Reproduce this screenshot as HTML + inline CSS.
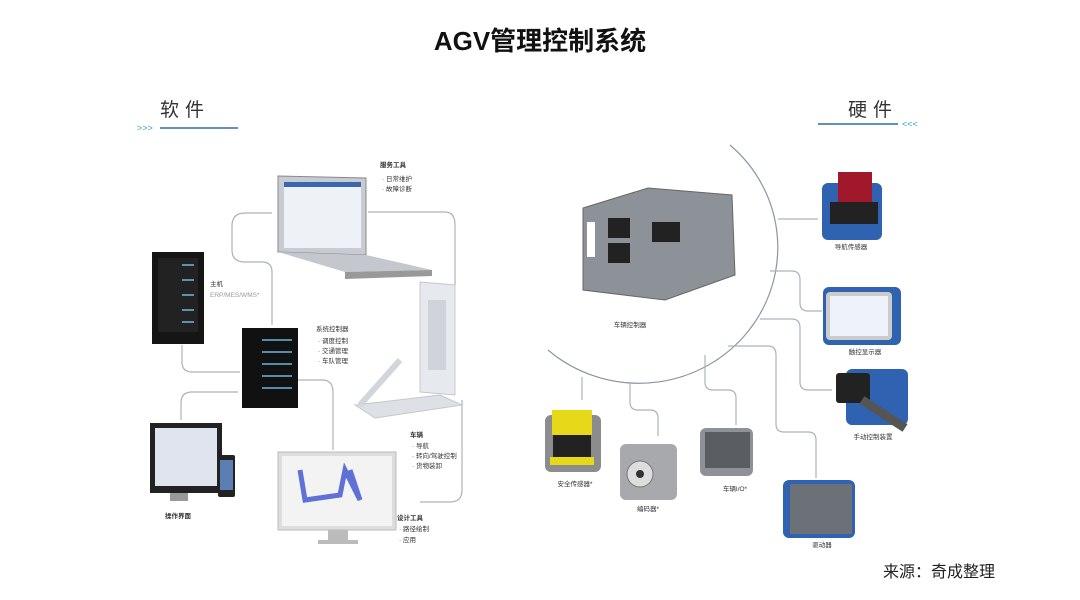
<!DOCTYPE html>
<html><head><meta charset="utf-8"><style>
body{margin:0;background:#fff;}
svg{display:block;font-family:"Liberation Sans","Noto Sans CJK SC",sans-serif;}
</style></head><body>
<svg width="1080" height="600" viewBox="0 0 1080 600" xmlns="http://www.w3.org/2000/svg">
<rect width="1080" height="600" fill="#fff"/>
<text x="540" y="50" text-anchor="middle" font-size="26" font-weight="bold" fill="#111">AGV管理控制系统</text>
<text x="160" y="116" font-size="19" fill="#333" letter-spacing="6">软件</text>
<line x1="160" y1="128" x2="238" y2="128" stroke="#2a6f9a" stroke-width="1.5"/>
<text x="137" y="131" font-size="9" fill="#3a9ad0">&gt;&gt;&gt;</text>
<text x="848" y="116" font-size="19" fill="#333" letter-spacing="6">硬件</text>
<line x1="818" y1="124" x2="898" y2="124" stroke="#2a6f9a" stroke-width="1.5"/>
<text x="902" y="127" font-size="9" fill="#3a9ad0">&lt;&lt;&lt;</text>

<g fill="none" stroke="#a9b3bd" stroke-width="1.2">
<path d="M272,213 H245 Q232,213 232,226 V250 Q232,262 245,262 H262 Q272,262 272,272 V325"/>
<path d="M368,212 H445 Q455,212 455,225 V285"/>
<path d="M462,400 V490 Q462,502 450,502 H420"/>
<path d="M238,392 H192 Q181,392 181,403 V420"/>
<path d="M298,380 H322 Q333,380 333,392 V450"/>
<path d="M182,345 V362 Q182,372 192,372 H240"/>
<path d="M730,145 A138,135 0 0 1 548,350" stroke="#8a96a2"/>
<path d="M778,219 H818"/>
<path d="M770,271 H792 Q800,271 800,280 V303 Q800,311 808,311 H822"/>
<path d="M760,319 H792 Q800,319 800,328 V382 Q800,390 808,390 H832"/>
<path d="M728,346 H768 Q776,346 776,355 V424 Q776,432 784,432 H808 Q816,432 816,440 V478"/>
<path d="M705,355 V382 Q705,390 713,390 H728 Q736,390 736,398 V425"/>
<path d="M630,383 V402 Q630,410 638,410 H650 Q658,410 658,418 V436"/>
<path d="M582,377 V400"/>
</g>

<g>
<polygon points="278,176 366,178 366,255 278,252" fill="#c8ccd2" stroke="#888" />
<rect x="284" y="182" width="77" height="66" fill="#eef2f7"/>
<rect x="284" y="182" width="77" height="5" fill="#3b66b0"/>
<polygon points="278,252 366,255 432,270 345,272" fill="#c4c8ce"/>
<polygon points="345,272 432,270 432,276 345,279" fill="#999"/>
<rect x="152" y="252" width="52" height="92" fill="#151515"/>
<rect x="158" y="258" width="40" height="74" fill="#222"/>
<g stroke="#6fb6e0" stroke-width="1.5"><line x1="182" y1="265" x2="194" y2="265"/><line x1="182" y1="280" x2="194" y2="280"/><line x1="182" y1="295" x2="194" y2="295"/><line x1="182" y1="310" x2="194" y2="310"/><line x1="182" y1="322" x2="194" y2="322"/></g>
<rect x="242" y="328" width="56" height="80" fill="#111"/>
<g stroke="#6fb6e0" stroke-width="1.5"><line x1="262" y1="340" x2="292" y2="340"/><line x1="262" y1="352" x2="292" y2="352"/><line x1="262" y1="364" x2="292" y2="364"/><line x1="262" y1="376" x2="292" y2="376"/><line x1="262" y1="388" x2="292" y2="388"/></g>
<polygon points="420,282 455,285 455,395 420,392" fill="#e6e9ee" stroke="#c4c8ce"/>
<rect x="428" y="300" width="18" height="70" fill="#d0d4da"/>
<polygon points="355,405 440,395 462,405 375,418" fill="#dde0e5" stroke="#c4c8ce"/>
<line x1="360" y1="405" x2="400" y2="360" stroke="#d2d5da" stroke-width="6"/>
<rect x="150" y="423" width="72" height="70" fill="#222"/>
<rect x="155" y="428" width="62" height="58" fill="#dfe4ee"/>
<rect x="170" y="493" width="18" height="8" fill="#999"/>
<rect x="218" y="455" width="17" height="42" rx="2" fill="#222"/>
<rect x="220" y="460" width="13" height="30" fill="#5b7fb5"/>
<rect x="278" y="452" width="118" height="78" fill="#ddd" stroke="#bbb"/>
<rect x="282" y="456" width="110" height="70" fill="#f3f3f3"/>
<path d="M300,470 L305,500 L340,495 L345,470 L360,500 L350,470" stroke="#3a4fd0" stroke-width="5" fill="none" opacity=".8"/>
<rect x="328" y="530" width="20" height="10" fill="#bbb"/><rect x="318" y="540" width="40" height="4" fill="#bbb"/>
</g>

<g font-size="6.5" fill="#333">
<text x="380" y="167" font-weight="bold">服务工具</text>
<text x="382" y="181">· 日常维护</text>
<text x="382" y="191">· 故障诊断</text>
<text x="210" y="286">主机</text>
<text x="210" y="297" fill="#999">ERP/MES/WMS*</text>
<text x="316" y="331">系统控制器</text>
<text x="318" y="343">· 调度控制</text>
<text x="318" y="353">· 交通管理</text>
<text x="318" y="363">· 车队管理</text>
<text x="410" y="437" font-weight="bold">车辆</text>
<text x="412" y="448">· 导航</text>
<text x="412" y="458">· 转向/驾驶控制</text>
<text x="412" y="468">· 货物装卸</text>
<text x="397" y="520" font-weight="bold">设计工具</text>
<text x="399" y="531">· 路径绘制</text>
<text x="399" y="542">· 应用</text>
<text x="165" y="518" font-weight="bold">操作界面</text>
</g>

<g>
<polygon points="583,208 648,188 732,195 735,275 665,300 583,290" fill="#8d9298" stroke="#666"/>
<rect x="608" y="218" width="22" height="20" fill="#222"/><rect x="608" y="243" width="22" height="20" fill="#222"/>
<rect x="652" y="222" width="28" height="20" fill="#222"/>
<rect x="587" y="222" width="8" height="35" fill="#fff"/>
<rect x="822" y="183" width="60" height="57" rx="6" fill="#2f62b0"/>
<rect x="838" y="172" width="34" height="30" fill="#a0182a"/><rect x="830" y="202" width="48" height="22" fill="#222"/>
<rect x="823" y="287" width="78" height="58" rx="6" fill="#2f62b0"/>
<rect x="826" y="292" width="66" height="48" rx="4" fill="#ccc"/><rect x="830" y="296" width="58" height="40" fill="#eef3fb"/>
<rect x="846" y="369" width="62" height="56" rx="6" fill="#2f62b0"/>
<rect x="836" y="373" width="34" height="30" rx="3" fill="#222"/><line x1="862" y1="400" x2="905" y2="428" stroke="#555" stroke-width="9"/>
<rect x="783" y="480" width="72" height="58" rx="6" fill="#2f62b0"/>
<rect x="790" y="484" width="62" height="50" fill="#6c7178"/>
<rect x="700" y="428" width="53" height="48" rx="6" fill="#8e9196"/>
<rect x="705" y="432" width="45" height="36" fill="#5a5d62"/>
<rect x="620" y="444" width="57" height="56" rx="6" fill="#a7a9ac"/>
<circle cx="640" cy="474" r="13" fill="#ddd" stroke="#777"/><circle cx="640" cy="474" r="4" fill="#333"/>
<rect x="545" y="415" width="56" height="57" rx="6" fill="#8a8c90"/>
<rect x="552" y="410" width="40" height="25" fill="#e8d81a"/><rect x="553" y="435" width="38" height="22" fill="#222"/><rect x="550" y="457" width="44" height="8" fill="#e8d81a"/>
</g>

<g font-size="6.5" fill="#333" text-anchor="middle">
<text x="630" y="327">车辆控制器</text>
<text x="851" y="249">导航传感器</text>
<text x="865" y="354">触控显示器</text>
<text x="873" y="439">手动控制装置</text>
<text x="822" y="547">驱动器</text>
<text x="735" y="491">车辆I/O*</text>
<text x="648" y="511">编码器*</text>
<text x="575" y="486">安全传感器*</text>
</g>

<text x="995" y="577" text-anchor="end" font-size="16" fill="#222">来源：奇成整理</text>
</svg>
</body></html>
